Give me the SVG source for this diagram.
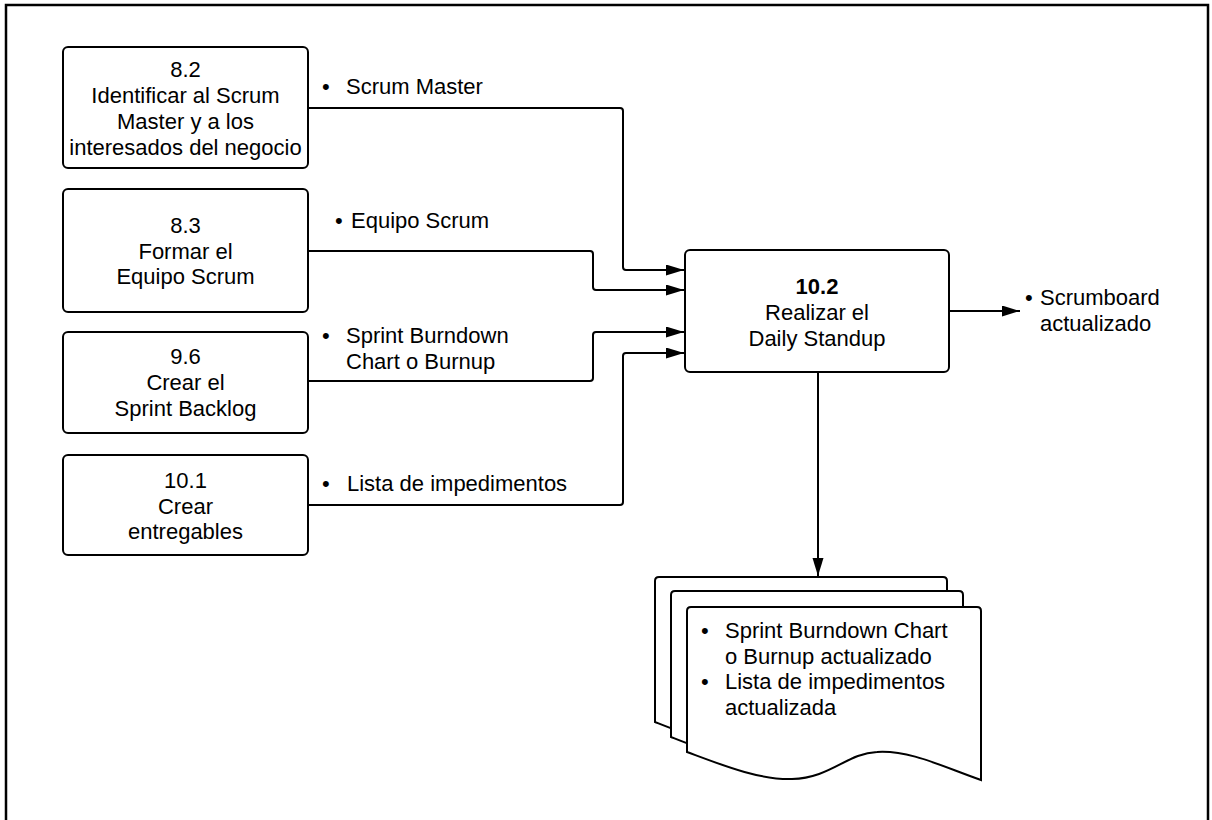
<svg xmlns="http://www.w3.org/2000/svg" width="1212" height="820" viewBox="0 0 1212 820">
<style>
  .box{fill:#fff;stroke:#000;stroke-width:2}
  .t{font-family:"Liberation Sans",Arial,sans-serif;font-size:22px;fill:#000}
  .c{text-anchor:middle}
  .b{font-weight:bold}
  .ln{fill:none;stroke:#000;stroke-width:2}
</style>
<defs>
  <marker id="ah" markerUnits="userSpaceOnUse" markerWidth="18" markerHeight="12" refX="18" refY="5.5" orient="auto">
    <path d="M0,0 L18,5.5 L0,11 z" fill="#000"/>
  </marker>
</defs>
<rect width="1212" height="820" fill="#fff"/>
<path d="M6,830 V5 H1208 V830" fill="none" stroke="#000" stroke-width="2.5"/>

<g id="n82">
  <rect class="box" x="63" y="47" width="245" height="121" rx="5"/>
  <text class="t c" x="185.5" y="77">8.2</text>
  <text class="t c" x="185.5" y="103">Identificar al Scrum</text>
  <text class="t c" x="185.5" y="129">Master y a los</text>
  <text class="t c" x="185.5" y="155">interesados del negocio</text>
</g>
<g id="n83">
  <rect class="box" x="63" y="189" width="245" height="123" rx="5"/>
  <text class="t c" x="185.5" y="233">8.3</text>
  <text class="t c" x="185.5" y="259">Formar el</text>
  <text class="t c" x="185.5" y="284">Equipo Scrum</text>
</g>
<g id="n96">
  <rect class="box" x="63" y="332" width="245" height="101" rx="5"/>
  <text class="t c" x="185.5" y="364">9.6</text>
  <text class="t c" x="185.5" y="390">Crear el</text>
  <text class="t c" x="185.5" y="416">Sprint Backlog</text>
</g>
<g id="n101">
  <rect class="box" x="63" y="455" width="245" height="100" rx="5"/>
  <text class="t c" x="185.5" y="488">10.1</text>
  <text class="t c" x="185.5" y="514">Crear</text>
  <text class="t c" x="185.5" y="539">entregables</text>
</g>
<g id="n102">
  <rect class="box" x="685" y="250" width="264" height="122" rx="5"/>
  <text class="t c b" x="817" y="294">10.2</text>
  <text class="t c" x="817" y="320">Realizar el</text>
  <text class="t c" x="817" y="346">Daily Standup</text>
</g>
<g id="docs">
  <path class="box" d="M655,722 V581 Q655,577 659,577 H943 Q947,577 947,581 V750 C907,736 876,720 843,722 C813,723 797,748 758,749 C725,750 688,735 655,722 Z"/>
  <path class="box" d="M671,737 V595 Q671,591 675,591 H959 Q963,591 963,595 V765 C923,751 892,735 859,737 C829,738 813,763 774,764 C741,765 704,750 671,737 Z"/>
  <path class="box" d="M687,752 V611 Q687,607 691,607 H977 Q981,607 981,611 V780 C941,766 910,750 877,752 C847,753 831,778 792,779 C759,780 722,765 687,752 Z"/>
  <text class="t" x="701" y="638">•</text>
  <text class="t" x="725" y="638">Sprint Burndown Chart</text>
  <text class="t" x="725" y="664">o Burnup actualizado</text>
  <text class="t" x="701" y="689">•</text>
  <text class="t" x="725" y="689">Lista de impedimentos</text>
  <text class="t" x="725" y="715">actualizada</text>
</g>
<g id="labels">
  <text class="t" x="322" y="94">•</text>
  <text class="t" x="346" y="94">Scrum Master</text>
  <text class="t" x="335" y="228">•</text>
  <text class="t" x="351" y="228">Equipo Scrum</text>
  <text class="t" x="322" y="343">•</text>
  <text class="t" x="346" y="343">Sprint Burndown</text>
  <text class="t" x="346" y="369">Chart o Burnup</text>
  <text class="t" x="322" y="491">•</text>
  <text class="t" x="347" y="491">Lista de impedimentos</text>
  <text class="t" x="1025" y="305">•</text>
  <text class="t" x="1040" y="305">Scrumboard</text>
  <text class="t" x="1040" y="331">actualizado</text>
</g>
<g id="connectors">
  <path class="ln" d="M308,108 H620 Q623,108 623,111 V267 Q623,270 626,270 H684" marker-end="url(#ah)"/>
  <path class="ln" d="M308,251 H590 Q593,251 593,254 V287 Q593,290 596,290 H684" marker-end="url(#ah)"/>
  <path class="ln" d="M308,381 H590 Q593,381 593,378 V335 Q593,332 596,332 H684" marker-end="url(#ah)"/>
  <path class="ln" d="M308,505 H620 Q623,505 623,502 V356 Q623,353 626,353 H684" marker-end="url(#ah)"/>
  <path class="ln" d="M950,311 H1020" marker-end="url(#ah)"/>
  <path class="ln" d="M818,372 V576" marker-end="url(#ah)"/>
</g>
</svg>
